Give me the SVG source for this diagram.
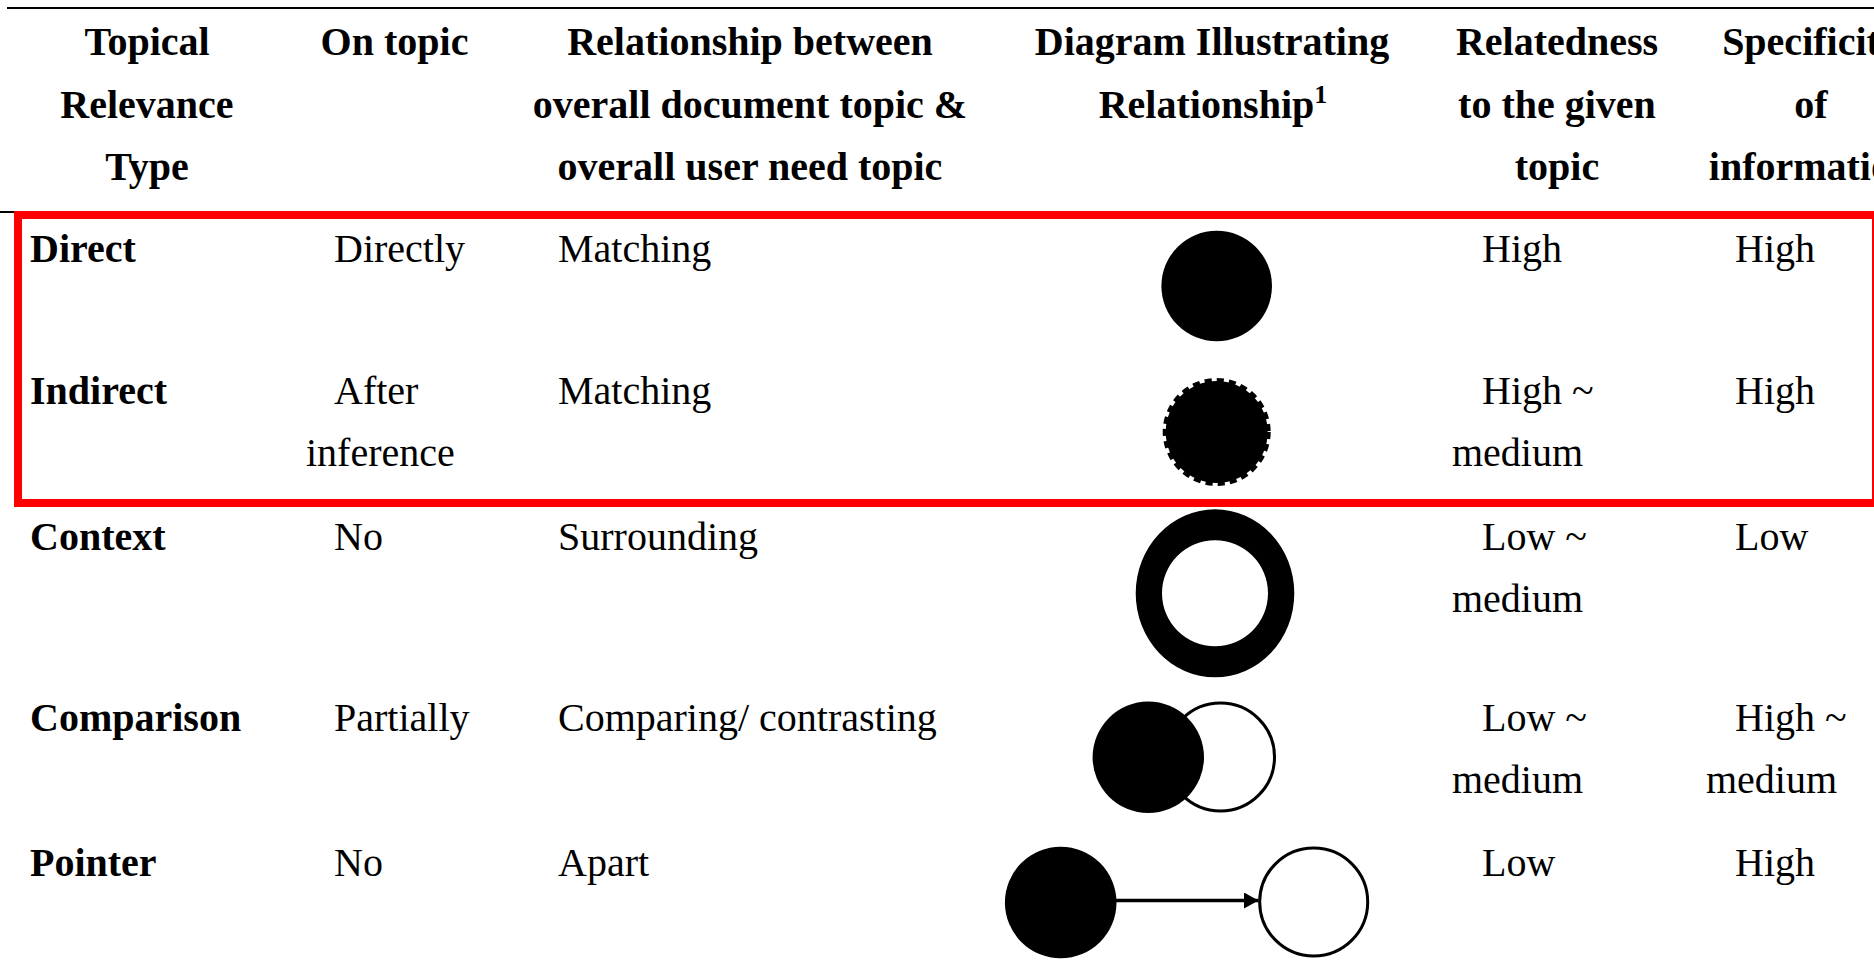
<svg xmlns="http://www.w3.org/2000/svg" width="1874" height="974" viewBox="0 0 1874 974">
<style>
text{font-family:"Liberation Serif","Times New Roman",serif;font-size:40px;fill:#000}
.h{font-weight:bold;text-anchor:middle}
.b{font-weight:bold}
.rule{stroke:#000;stroke-width:2.2}
.blk{fill:#000}
.wht{fill:#fff;stroke:#000;stroke-width:3}
</style>
<defs>
<marker id="ah" markerUnits="userSpaceOnUse" markerWidth="16" markerHeight="17" refX="14.5" refY="8" orient="auto">
<path d="M0,0 L14.5,8 L0,16 Z" fill="#000"/>
</marker>
</defs>
<rect width="1874" height="974" fill="#fff"/>
<line class="rule" x1="7" y1="8" x2="1874" y2="8"/>
<line class="rule" x1="0" y1="212" x2="1874" y2="212"/>
<g id="header">
<text class="h" x="147" y="55">Topical</text>
<text class="h" x="147" y="118">Relevance</text>
<text class="h" x="147" y="180">Type</text>
<text class="h" x="394.5" y="55">On topic</text>
<text class="h" x="750" y="55">Relationship between</text>
<text class="h" x="750" y="118">overall document topic &amp;</text>
<text class="h" x="750" y="180">overall user need topic</text>
<text class="h" x="1212" y="55">Diagram Illustrating</text>
<text class="h" x="1213" y="118">Relationship<tspan font-size="26" dy="-15">1</tspan></text>
<text class="h" x="1557" y="55">Relatedness</text>
<text class="h" x="1557" y="118">to the given</text>
<text class="h" x="1557" y="180">topic</text>
<text class="h" x="1811" y="55">Specificity</text>
<text class="h" x="1811" y="118">of</text>
<text class="h" x="1811" y="180">information</text>
</g>
<g id="row-direct">
<text class="b" x="30" y="262">Direct</text>
<text x="334" y="262">Directly</text>
<text x="558" y="262">Matching</text>
<circle class="blk" cx="1216.7" cy="286" r="55.3"/>
<text x="1482" y="262">High</text>
<text x="1735" y="262">High</text>
</g>
<g id="row-indirect">
<text class="b" x="30" y="404">Indirect</text>
<text x="334" y="404">After</text>
<text x="306" y="466">inference</text>
<text x="558" y="404">Matching</text>
<circle cx="1216.7" cy="432" r="51" fill="#000" stroke="#000" stroke-width="6" stroke-dasharray="7 5"/>
<text x="1482" y="404">High ~</text>
<text x="1452" y="466">medium</text>
<text x="1735" y="404">High</text>
</g>
<g id="row-context">
<text class="b" x="30" y="550">Context</text>
<text x="334" y="550">No</text>
<text x="558" y="550">Surrounding</text>
<path class="blk" fill-rule="evenodd" d="M1135.7,593.3 a79.3,84 0 1,0 158.6,0 a79.3,84 0 1,0 -158.6,0 Z M1162,593.3 a53,53 0 1,0 106,0 a53,53 0 1,0 -106,0 Z"/>
<text x="1482" y="550">Low ~</text>
<text x="1452" y="612">medium</text>
<text x="1735" y="550">Low</text>
</g>
<g id="row-comparison">
<text class="b" x="30" y="731">Comparison</text>
<text x="334" y="731">Partially</text>
<text x="558" y="731">Comparing/ contrasting</text>
<circle class="wht" cx="1220.5" cy="757" r="54"/>
<circle class="blk" cx="1148.3" cy="757.3" r="55.7"/>
<text x="1482" y="731">Low ~</text>
<text x="1452" y="793">medium</text>
<text x="1735" y="731">High ~</text>
<text x="1706" y="793">medium</text>
</g>
<g id="row-pointer">
<text class="b" x="30" y="876">Pointer</text>
<text x="334" y="876">No</text>
<text x="558" y="876">Apart</text>
<circle class="blk" cx="1060.7" cy="902.5" r="55.8"/>
<circle class="wht" cx="1313.7" cy="902" r="54"/>
<text x="1482" y="876">Low</text>
<text x="1735" y="876">High</text>
</g>
<g id="connectors">
<line x1="1116" y1="900.5" x2="1258.5" y2="900.5" stroke="#000" stroke-width="3.5" marker-end="url(#ah)"/>
</g>
<rect id="highlight" x="18" y="215" width="1858" height="288" fill="none" stroke="#f00" stroke-width="8"/>
</svg>
